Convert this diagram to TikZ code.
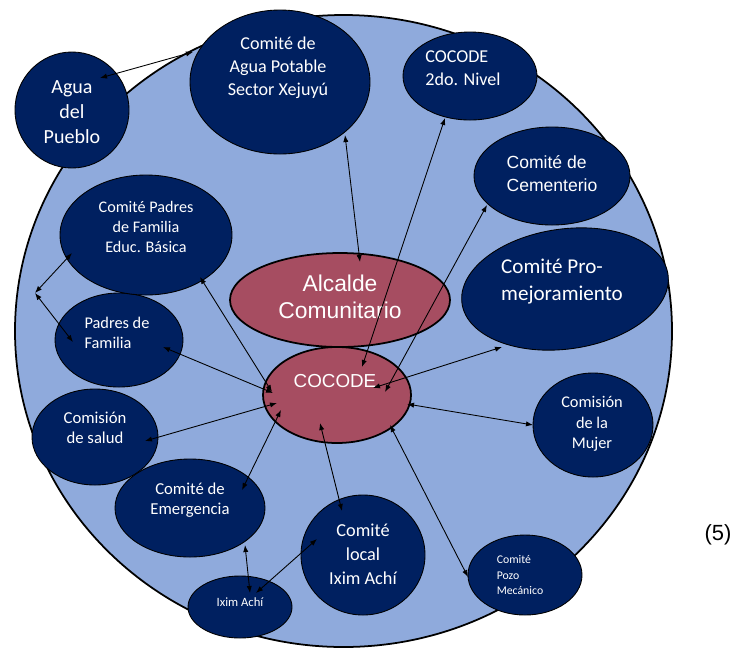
\documentclass[tikz,border=0pt]{standalone}
\usepackage{fontspec}
\setmainfont{Carlito}
\newfontfamily\arialfont{Liberation Sans}
\usetikzlibrary{shapes.geometric,arrows.meta}
\definecolor{ringblue}{RGB}{143,170,220}
\definecolor{navy}{RGB}{0,32,96}
\definecolor{rose}{RGB}{166,77,97}
\tikzset{
  dims/.style 2 args={minimum width=#1*0.02cm, minimum height=#2*0.02cm},
  org/.style={ellipse, draw=black, fill=navy, inner sep=0pt, line width=0.5pt},
  lead/.style={ellipse, draw=black, fill=rose, inner sep=0pt, line width=1pt},
  orgtext/.style={text=white, align=center, inner sep=0pt},
  link/.style={<->, >={Latex[length=4pt,width=3pt]}, line width=0.5pt},
}
\newcommand{\fpx}[2]{\fontsize{#1}{#2}\selectfont}

\begin{document}
\begin{tikzpicture}[x=0.02cm, y=-0.02cm]
\useasboundingbox (0,0) rectangle (737,647);
\filldraw[fill=ringblue, draw=black, line width=1pt] (343.5,331) ellipse (328.5 and 316); %outer ring

% committees round the ring
\node[org, dims={114}{116}] (pueblo) at (72,110) {};
\node[org, dims={180}{144}] (potable) at (280,82) {};
\node[org, dims={134}{88}] (nivel) at (470,76) {};
\node[org, dims={156}{98}] (cement) at (552,176) {};
\node[org, dims={208}{120}, rotate=8] (promej) at (565,289) {};
\node[org, dims={120}{104}] (mujer) at (593,425) {};
\node[org, dims={114}{80}] (pozo) at (525,575) {};
\node[org, dims={124}{120}] (local) at (363,555) {};
\node[org, dims={104}{62}] (ixim) at (240,607) {};
\node[org, dims={150}{98}] (emerg) at (190,508) {};
\node[org, dims={126}{96}] (salud) at (95,437) {};
\node[org, dims={128}{94}] (padres) at (119,340) {};
\node[org, dims={172}{120}] (basica) at (146,235) {};

% centre
\node[lead, dims={220}{94}] (alcalde) at (340,300) {};
\node[lead, dims={148}{96}] (cocode) at (337,395) {};

% texts
\node[orgtext, font=\fpx{11.4}{14.2}] (pueblo-t) at (72,112) {Agua\\del\\Pueblo};
\node[orgtext, font=\fpx{10.3}{13}] (potable-t) at (278,68) {Comité de\\Agua Potable\\Sector Xejuyú};
\node[orgtext, align=left, font=\fpx{10.3}{13.1}] (nivel-t) at (463,68) {COCODE\\2do. Nivel};
\node[orgtext, align=left, font=\arialfont\fpx{10}{13.1}] (cement-t) at (552,174) {Comité de\\Cementerio};
\node[orgtext, align=left, font=\fpx{12}{15.4}] (promej-t) at (562,282) {Comité Pro-\\mejoramiento};
\node[orgtext, font=\fpx{9.3}{11.7}] (mujer-t) at (592,424) {Comisión\\de la\\Mujer};
\node[orgtext, align=left, font=\fpx{6.7}{8.8}] (pozo-t) at (520,575) {Comité\\Pozo\\Mecánico};
\node[orgtext, font=\fpx{10.4}{13.7}] (local-t) at (363,554) {Comité\\local\\Ixim Achí};
\node[orgtext, font=\fpx{7.2}{9}] (ixim-t) at (240,602) {Ixim Achí};
\node[orgtext, font=\fpx{9.5}{11.4}] (emerg-t) at (190,500) {Comité de\\Emergencia};
\node[orgtext, font=\fpx{9.5}{11.4}] (salud-t) at (95,428) {Comisión\\de salud};
\node[orgtext, align=left, font=\fpx{9.3}{11.4}] (padres-t) at (117,333) {Padres de\\Familia};
\node[orgtext, font=\fpx{9.2}{11.4}] (basica-t) at (146,227) {Comité Padres\\de Familia\\Educ. Básica};
\node[orgtext, font=\arialfont\fpx{13}{15.6}] (alcalde-t) at (340,297) {Alcalde\\Comunitario};
\node[orgtext, font=\arialfont\fpx{10.7}{12}] (cocode-t) at (335,381) {COCODE};
\node[inner sep=0pt, font=\arialfont\fpx{12.5}{14}] (num) at (718,535) {(5)};

% links
\coordinate (bend) at (35,293);
\draw[link] ([shift={(28,-32)}]pueblo.center) -- ([shift={(-87,-30)}]potable.center); %pueblo - potable
\draw[link] ([shift={(65,53)}]potable.center) -- ([shift={(20,-38)}]alcalde.center); %potable - alcalde
\draw[link] ([shift={(-25,42)}]nivel.center) -- ([shift={(25,-28)}]cocode.center); %2do nivel
\draw[link] ([shift={(-65,29)}]cement.center) -- ([shift={(48,-3)}]cocode.center); %cementerio
\draw[link] ([shift={(-63,58)}]promej.center) -- ([shift={(36,-7)}]cocode.center); %pro-mejoramiento
\draw[link] ([shift={(70,9)}]cocode.center) -- ([shift={(-60,0)}]mujer.center); %mujer
\draw[link] ([shift={(53,30)}]cocode.center) -- ([shift={(-57,2)}]pozo.center); %pozo
\draw[link] ([shift={(-17,28)}]cocode.center) -- ([shift={(-21,-44)}]local.center); %comite local
\draw[link] ([shift={(-56,15)}]cocode.center) -- ([shift={(52,-18)}]emerg.center); %emergencia
\draw[link] ([shift={(-60,8)}]cocode.center) -- ([shift={(50,4)}]salud.center); %salud
\draw[link] ([shift={(-64,-2)}]cocode.center) -- ([shift={(44,7)}]padres.center); %padres de familia
\draw[link] ([shift={(-65,-3)}]cocode.center) -- ([shift={(54,42)}]basica.center); %educ basica
\draw[link] ([shift={(-74,18)}]basica.center) -- (bend); %basica to bend
\draw[link] (bend) -- ([shift={(-46,2)}]padres.center); %bend to padres
\draw[link] ([shift={(55,37)}]emerg.center) -- ([shift={(10,-14)}]ixim.center); %emergencia - ixim
\draw[link] ([shift={(16,-14)}]ixim.center) -- ([shift={(-46,-16)}]local.center); %ixim - comite local
\end{tikzpicture}
\end{document}
